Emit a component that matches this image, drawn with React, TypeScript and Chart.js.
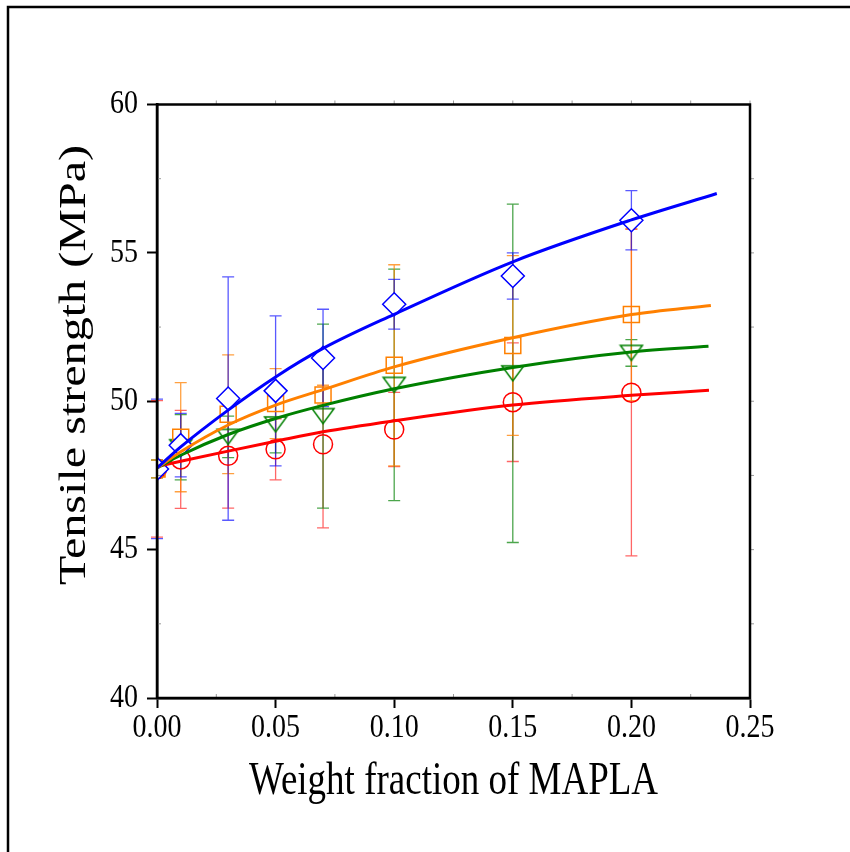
import React, { useEffect, useRef } from "react";
import { Chart, registerables } from "chart.js";

Chart.register(...registerables);

// ---- data ----
const fractions = [0, 0.01, 0.03, 0.05, 0.07, 0.1, 0.15, 0.2];

const blueMean = [47.72, 48.52, 50.09, 50.35, 51.46, 53.27, 54.22, 56.1];
const blueErr = [2.35, 1.07, 4.1, 2.53, 1.64, 0.84, 0.78, 1.0];
const orangeMean = [47.72, 48.79, 49.56, 49.92, 50.21, 51.21, 51.88, 52.92];
const orangeErr = [0.3, 1.84, 2.0, 1.18, 0.33, 3.39, 3.03, 2.9];
const greenMean = [47.72, 48.45, 48.8, 49.22, 49.5, 50.55, 50.94, 51.63];
const greenErr = [0.3, 1.1, 0.7, 0.96, 3.1, 3.9, 5.7, 0.45];
const redMean = [47.72, 48.04, 48.16, 48.38, 48.55, 49.05, 49.97, 50.29];
const redErr = [2.3, 1.65, 1.76, 1.03, 2.82, 1.25, 2.0, 5.5];

const blueCurveX = [0, 0.01, 0.03, 0.05, 0.07, 0.1, 0.15, 0.2, 0.236];
const blueCurveY = [47.75, 48.46, 49.7, 50.82, 51.78, 52.93, 54.7, 56.11, 57.0];
const orangeCurveX = [0, 0.01, 0.03, 0.05, 0.07, 0.1, 0.15, 0.2, 0.2335];
const orangeCurveY = [47.75, 48.3, 49.2, 49.87, 50.39, 51.16, 52.14, 52.92, 53.23];
const greenCurveX = [0, 0.01, 0.03, 0.05, 0.07, 0.1, 0.15, 0.2, 0.2325];
const greenCurveY = [47.75, 48.18, 48.88, 49.42, 49.86, 50.42, 51.14, 51.66, 51.85];
const redCurveX = [0, 0.01, 0.03, 0.05, 0.07, 0.1, 0.15, 0.2, 0.2327];
const redCurveY = [47.8, 47.98, 48.32, 48.65, 48.97, 49.34, 49.87, 50.2, 50.37];

const xTickValues = [0, 0.05, 0.1, 0.15, 0.2, 0.25];
const xTickLabels = ["0.00", "0.05", "0.10", "0.15", "0.20", "0.25"];
const yTickValues = [40, 45, 50, 55, 60];
const yTickLabels = ["40", "45", "50", "55", "60"];
const xTitle = "Weight fraction of MAPLA";
const yTitle = "Tensile strength (MPa)";

const BLUE = "#0000ff";
const ORANGE = "#ff8000";
const GREEN = "#008000";
const RED = "#ff0000";
const FONT = '"Liberation Serif"';

const pts = (xs: number[], ys: number[]) => xs.map((x, i) => ({ x, y: ys[i] }));

function makeTriangle(): HTMLCanvasElement {
  const c = document.createElement("canvas");
  c.width = 26;
  c.height = 19;
  const g = c.getContext("2d")!;
  g.strokeStyle = GREEN;
  g.lineWidth = 1.5;
  g.beginPath();
  g.moveTo(2, 2);
  g.lineTo(24, 2);
  g.lineTo(13, 17);
  g.closePath();
  g.stroke();
  return c;
}

const errorSeries = [
  { mean: redMean, err: redErr, color: "rgba(255,0,0,0.6)" },
  { mean: greenMean, err: greenErr, color: "rgba(0,128,0,0.7)" },
  { mean: orangeMean, err: orangeErr, color: "rgba(255,128,0,0.75)" },
  { mean: blueMean, err: blueErr, color: "rgba(0,0,255,0.65)" },
];

const errorBarPlugin = {
  id: "errbars",
  beforeDatasetsDraw(chart: any) {
    const { ctx, scales } = chart;
    const x = scales.x;
    const y = scales.y;
    ctx.save();
    ctx.lineWidth = 1.3;
    for (const s of errorSeries) {
      ctx.strokeStyle = s.color;
      s.mean.forEach((m: number, i: number) => {
        const px = x.getPixelForValue(fractions[i]);
        const top = y.getPixelForValue(m + s.err[i]);
        const bot = y.getPixelForValue(m - s.err[i]);
        ctx.beginPath();
        ctx.moveTo(px, top);
        ctx.lineTo(px, bot);
        ctx.moveTo(px - 6, top);
        ctx.lineTo(px + 6, top);
        ctx.moveTo(px - 6, bot);
        ctx.lineTo(px + 6, bot);
        ctx.stroke();
      });
    }
    ctx.restore();
  },
};

const framePlugin = {
  id: "frame",
  afterDraw(chart: any) {
    const { ctx, chartArea, scales } = chart;
    const { left, right, top, bottom } = chartArea;
    const x = scales.x;
    const y = scales.y;
    ctx.save();
    // minor ticks
    ctx.strokeStyle = "#9a9a9a";
    ctx.lineWidth = 1;
    ctx.beginPath();
    for (let v = 0.025; v < 0.25; v += 0.025) {
      const px = x.getPixelForValue(v);
      ctx.moveTo(px, top);
      ctx.lineTo(px, top - 4);
      if (Math.round(v * 1000) % 50 !== 0) {
        ctx.moveTo(px, bottom);
        ctx.lineTo(px, bottom - 4);
      }
    }
    for (let v = 42.5; v < 60; v += 2.5) {
      const py = y.getPixelForValue(v);
      ctx.moveTo(right, py);
      ctx.lineTo(right + 4, py);
      if (Math.round(v * 10) % 50 !== 0) {
        ctx.moveTo(left, py);
        ctx.lineTo(left + 4, py);
      }
    }
    ctx.stroke();
    // box
    ctx.strokeStyle = "#000";
    ctx.lineWidth = 2.5;
    ctx.strokeRect(left, top, right - left, bottom - top);
    // outer frame
    ctx.lineWidth = 2.5;
    ctx.beginPath();
    ctx.moveTo(8, chart.height);
    ctx.lineTo(8, 7);
    ctx.lineTo(chart.width, 7);
    ctx.stroke();

    ctx.fillStyle = "#000";
    ctx.textBaseline = "middle";
    // tick labels (slightly tall, like the reference)
    ctx.font = `28px ${FONT}`;
    ctx.textAlign = "center";
    xTickValues.forEach((v, i) => {
      ctx.save();
      ctx.translate(x.getPixelForValue(v), 728);
      ctx.scale(1, 1.2);
      ctx.fillText(xTickLabels[i], 0, 0);
      ctx.restore();
    });
    ctx.textAlign = "right";
    yTickValues.forEach((v, i) => {
      ctx.save();
      ctx.translate(138, y.getPixelForValue(v));
      ctx.scale(1, 1.2);
      ctx.fillText(yTickLabels[i], 0, 0);
      ctx.restore();
    });

    // titles
    ctx.font = `37px ${FONT}`;
    ctx.textAlign = "center";
    ctx.save();
    ctx.translate((left + right) / 2, 782);
    ctx.scale(1, 1.28);
    ctx.fillText(xTitle, 0, 0);
    ctx.restore();
    ctx.save();
    ctx.translate(75, 365);
    ctx.rotate(-Math.PI / 2);
    ctx.scale(1.3, 1);
    ctx.fillText(yTitle, 0, 0);
    ctx.restore();
    ctx.restore();
  },
};

export default function App() {
  const ref = useRef<HTMLCanvasElement | null>(null);

  useEffect(() => {
    let chart: Chart | null = null;
    let cancelled = false;

    const build = () => {
      if (cancelled || !ref.current) return;
      const tri = makeTriangle();
      const curve = (xs: number[], ys: number[], color: string, order: number) => ({
        type: "line" as const,
        data: pts(xs, ys),
        borderColor: color,
        borderWidth: 3,
        pointRadius: 0,
        fill: false,
        cubicInterpolationMode: "monotone" as const,
        order,
      });
      const marker = (ys: number[], color: string, style: any, radius: number, bg: string, order: number) => ({
        type: "line" as const,
        data: pts(fractions, ys),
        showLine: false,
        borderColor: color,
        backgroundColor: bg,
        pointStyle: style,
        pointRadius: radius,
        pointBorderWidth: 1.5,
        pointBorderColor: color,
        pointBackgroundColor: bg,
        order,
      });

      chart = new Chart(ref.current, {
        type: "line",
        data: {
          datasets: [
            curve(blueCurveX, blueCurveY, BLUE, 1),
            curve(orangeCurveX, orangeCurveY, ORANGE, 2),
            curve(greenCurveX, greenCurveY, GREEN, 3),
            curve(redCurveX, redCurveY, RED, 4),
            marker(blueMean, BLUE, "rectRot", 11.5, "#ffffff", 5),
            marker(orangeMean, ORANGE, "rect", 11.3, "rgba(0,0,0,0)", 6),
            marker(greenMean, GREEN, tri, 10, "rgba(0,0,0,0)", 7),
            marker(redMean, RED, "circle", 9.5, "rgba(0,0,0,0)", 8),
          ] as any,
        },
        options: {
          responsive: false,
          animation: false,
          events: [],
          layout: { padding: { top: 104.5, right: 100, left: 0, bottom: 0 } },
          plugins: { legend: { display: false }, tooltip: { enabled: false } },
          scales: {
            x: {
              type: "linear",
              min: 0,
              max: 0.25,
              afterFit: (s: any) => {
                s.height = 154;
              },
              afterBuildTicks: (s: any) => {
                s.ticks = xTickValues.map((v) => ({ value: v }));
              },
              ticks: {
                color: "rgba(0,0,0,0)",
                font: { family: FONT, size: 28 },
                padding: 3,
                maxRotation: 0,
                callback: (v: any) => Number(v).toFixed(2),
              },
              grid: {
                drawOnChartArea: false,
                drawTicks: true,
                tickLength: 10,
                tickWidth: 2,
                tickColor: "#000",
              },
              border: { display: true, color: "#000", width: 2.5 },
            },
            y: {
              type: "linear",
              min: 40,
              max: 60,
              afterFit: (s: any) => {
                s.width = 157;
              },
              afterBuildTicks: (s: any) => {
                s.ticks = yTickValues.map((v) => ({ value: v }));
              },
              ticks: {
                color: "rgba(0,0,0,0)",
                font: { family: FONT, size: 28 },
                padding: 8,
                callback: (v: any) => String(v),
              },
              grid: {
                drawOnChartArea: false,
                drawTicks: true,
                tickLength: 10,
                tickWidth: 2,
                tickColor: "#000",
              },
              border: { display: true, color: "#000", width: 2.5 },
            },
          },
        },
        plugins: [errorBarPlugin, framePlugin],
      } as any);
    };

    const fontsApi: any = (document as any).fonts;
    if (fontsApi && fontsApi.load) {
      Promise.all([
        fontsApi.load('28px "Liberation Serif"'),
        fontsApi.load('37px "Liberation Serif"'),
      ])
        .catch(() => undefined)
        .then(() => build());
    } else {
      build();
    }

    return () => {
      cancelled = true;
      if (chart) chart.destroy();
    };
  }, []);

  return (
    <div style={{ position: "fixed", left: 0, top: 0, width: 850, height: 852, background: "#fff" }}>
      <canvas ref={ref} width={850} height={852} style={{ width: 850, height: 852, display: "block" }} />
    </div>
  );
}
